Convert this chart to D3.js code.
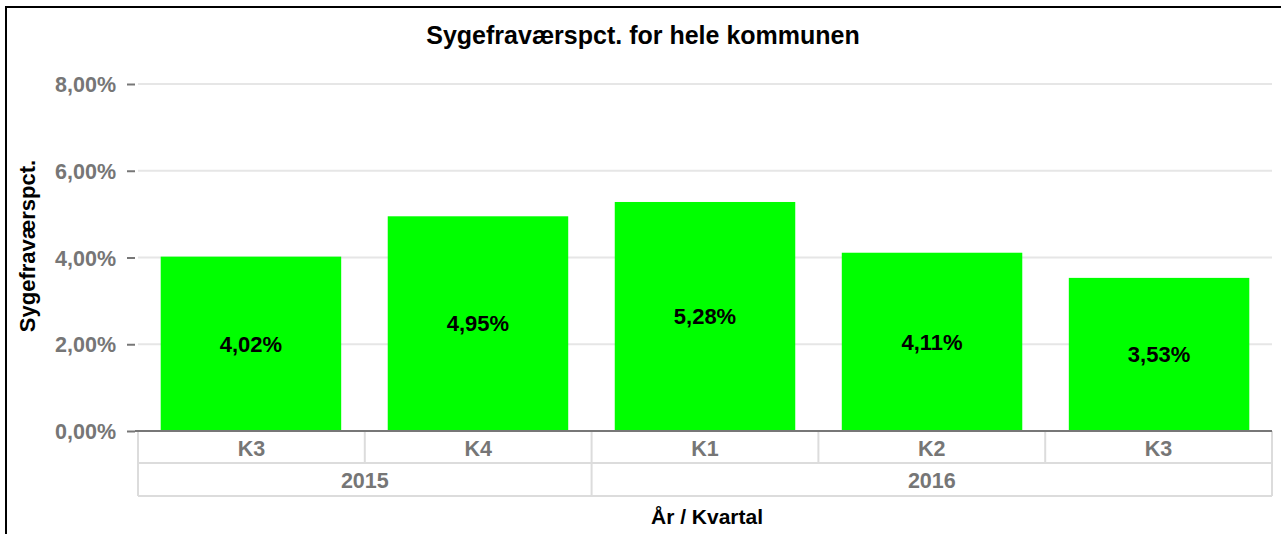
<!DOCTYPE html>
<html>
<head>
<meta charset="utf-8">
<script src="https://cdn.jsdelivr.net/npm/d3@7"></script>
<style>
  body { margin: 0; background: #fff; }
  svg { display: block; font-family: "Liberation Sans", Arial, sans-serif; }
</style>
</head>
<body>
<svg id="chart" width="1281" height="534"></svg>
<script>
// quarters and years
const quarters = ['K3', 'K4', 'K1', 'K2', 'K3'];
const years = ['2015', '2015', '2016', '2016', '2016'];
const values = [4.02, 4.95, 5.28, 4.11, 3.53];
const yTicks = [0, 2, 4, 6, 8];

const width = 1281;
const height = 534;
const margin = {left: 138, right: 9, top: 84, bottom: 103};

const svg = d3.select('#chart');

// frame
svg.append('path')
  .attr('d', 'M6,534 V7 H1281')
  .attr('fill', 'none')
  .attr('stroke', '#000')
  .attr('stroke-width', 2);

const x = d3.scaleBand()
  .domain(d3.range(values.length))
  .range([margin.left, width - margin.right])
  .paddingInner(0.205)
  .paddingOuter(0.1);

const y = d3.scaleLinear()
  .domain([0, 8])
  .range([height - margin.bottom, margin.top]);

const fmt = v => v.toFixed(2).replace('.', ',') + '%';

// gridlines
svg.append('g')
  .selectAll('line')
  .data(yTicks.slice(1))
  .join('line')
  .attr('x1', margin.left)
  .attr('x2', width - margin.right)
  .attr('y1', d => y(d))
  .attr('y2', d => y(d))
  .attr('stroke', '#e6e6e6')
  .attr('stroke-width', 2);

// y axis
const yAxis = svg.append('g')
  .attr('transform', 'translate(' + (margin.left - 3) + ',0)')
  .call(d3.axisLeft(y).tickValues(yTicks).tickFormat(fmt).tickSize(8).tickPadding(11));
yAxis.select('.domain').remove();
yAxis.selectAll('.tick line').attr('stroke', '#777').attr('stroke-width', 2);
yAxis.selectAll('.tick text')
  .attr('fill', '#767676')
  .style('font-size', '21.5px')
  .style('font-weight', 'bold')
  .attr('dy', '0.35em');

// bars
svg.append('g')
  .selectAll('rect')
  .data(values)
  .join('rect')
  .attr('x', (d, i) => x(i))
  .attr('width', x.bandwidth())
  .attr('y', d => y(d))
  .attr('height', d => y(0) - y(d))
  .attr('fill', '#00ff00');

// value labels
svg.append('g')
  .selectAll('text')
  .data(values)
  .join('text')
  .attr('x', (d, i) => x(i) + x.bandwidth() / 2)
  .attr('y', d => (y(d) + y(0)) / 2)
  .attr('dy', '0.35em')
  .attr('text-anchor', 'middle')
  .style('font-size', '22px')
  .style('font-weight', 'bold')
  .attr('fill', '#000')
  .text(fmt);

// category table
const cellW = (width - margin.left - margin.right) / values.length;
const cellLeft = i => margin.left + i * cellW;
const row1 = y(0), row2 = y(0) + 32, row3 = y(0) + 65;

const grid = svg.append('g').attr('stroke', '#dcdcdc').attr('stroke-width', 2).attr('fill', 'none');
grid.append('line').attr('x1', margin.left).attr('x2', width - margin.right).attr('y1', row2).attr('y2', row2);
grid.append('line').attr('x1', margin.left).attr('x2', width - margin.right).attr('y1', row3).attr('y2', row3);
grid.append('line').attr('x1', margin.left).attr('x2', margin.left).attr('y1', row1).attr('y2', row3);
grid.append('line').attr('x1', width - margin.right).attr('x2', width - margin.right).attr('y1', row1).attr('y2', row3);
grid.selectAll('.qsep')
  .data(d3.range(1, values.length))
  .join('line')
  .attr('x1', i => cellLeft(i)).attr('x2', i => cellLeft(i))
  .attr('y1', row1)
  .attr('y2', i => years[i] !== years[i - 1] ? row3 : row2);

svg.append('g')
  .selectAll('text')
  .data(quarters)
  .join('text')
  .attr('x', (d, i) => cellLeft(i) + cellW / 2)
  .attr('y', (row1 + row2) / 2 + 1)
  .attr('dy', '0.36em')
  .attr('text-anchor', 'middle')
  .attr('fill', '#767676')
  .style('font-size', '21.5px')
  .style('font-weight', 'bold')
  .text(d => d);

// year groups
const yearGroups = d3.groups(years.map((yr, i) => ({yr, i})), d => d.yr);
svg.append('g')
  .selectAll('text')
  .data(yearGroups)
  .join('text')
  .attr('x', d => (cellLeft(d[1][0].i) + cellLeft(d[1][d[1].length - 1].i) + cellW) / 2)
  .attr('y', (row2 + row3) / 2 + 1)
  .attr('dy', '0.36em')
  .attr('text-anchor', 'middle')
  .attr('fill', '#767676')
  .style('font-size', '21.5px')
  .style('font-weight', 'bold')
  .text(d => d[0]);

// x axis line
svg.append('line')
  .attr('x1', margin.left - 3)
  .attr('x2', width - margin.right)
  .attr('y1', y(0))
  .attr('y2', y(0))
  .attr('stroke', '#777')
  .attr('stroke-width', 2);

// title and axis titles
svg.append('text')
  .attr('x', 643)
  .attr('y', 44)
  .attr('text-anchor', 'middle')
  .style('font-size', '25px')
  .style('font-weight', 'bold')
  .text('Sygefraværspct. for hele kommunen');

svg.append('text')
  .attr('transform', 'translate(35,246) rotate(-90)')
  .attr('text-anchor', 'middle')
  .style('font-size', '22px')
  .style('font-weight', 'bold')
  .text('Sygefraværspct.');

svg.append('text')
  .attr('x', (margin.left + width - margin.right) / 2 + 2)
  .attr('y', 524)
  .attr('text-anchor', 'middle')
  .style('font-size', '21px')
  .style('font-weight', 'bold')
  .text('År / Kvartal');
</script>
</body>
</html>
